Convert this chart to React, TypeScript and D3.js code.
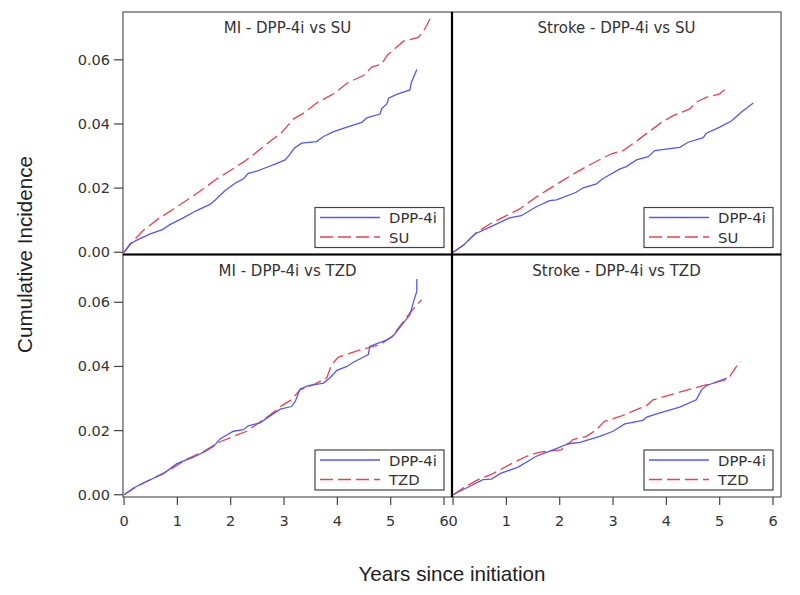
import React from "react";
import * as d3 from "d3";

type Pt = [number, number];

// Years since initiation, cumulative incidence
const miSuDpp: Pt[] = [[0,0],[0.11,0.0026],[0.24,0.0038],[0.49,0.0057],[0.71,0.007],[0.86,0.0086],[1.11,0.0107],[1.36,0.013],[1.61,0.0149],[1.71,0.0163],[1.89,0.0192],[2.11,0.0218],[2.24,0.0229],[2.33,0.0246],[2.49,0.0253],[2.68,0.0265],[2.83,0.0275],[3.02,0.0288],[3.11,0.0305],[3.19,0.0324],[3.33,0.034],[3.61,0.0345],[3.74,0.0361],[3.93,0.0376],[4.18,0.039],[4.46,0.0405],[4.55,0.0419],[4.8,0.0431],[4.83,0.0447],[4.93,0.0463],[4.96,0.048],[5.11,0.0492],[5.36,0.0506],[5.39,0.053],[5.49,0.057]];
const miSuSu: Pt[] = [[0,0],[0.175,0.0036],[0.36,0.0068],[0.64,0.0104],[0.93,0.0135],[1.21,0.0166],[1.49,0.0198],[1.74,0.0229],[1.99,0.0255],[2.24,0.0281],[2.43,0.0305],[2.68,0.0338],[2.96,0.0374],[3.18,0.0416],[3.36,0.0433],[3.61,0.0465],[3.93,0.0494],[4.21,0.053],[4.49,0.0551],[4.64,0.0577],[4.83,0.0587],[4.93,0.0613],[5.24,0.0658],[5.52,0.067],[5.64,0.0696],[5.74,0.0728]];
const strokeSuDpp: Pt[] = [[0,0],[0.19,0.0021],[0.41,0.0057],[0.75,0.0083],[1.06,0.0107],[1.28,0.0114],[1.56,0.0142],[1.81,0.0161],[1.94,0.0163],[2.31,0.0187],[2.44,0.0201],[2.69,0.0213],[2.78,0.0226],[2.88,0.0236],[3.13,0.026],[3.25,0.0267],[3.44,0.0288],[3.66,0.0298],[3.78,0.0317],[4.25,0.0327],[4.41,0.0343],[4.69,0.0357],[4.75,0.0371],[5.0,0.039],[5.22,0.0409],[5.41,0.0437],[5.63,0.0465]];
const strokeSuSu: Pt[] = [[0,0],[0.22,0.0026],[0.44,0.0062],[0.69,0.0088],[1.0,0.0114],[1.25,0.0135],[1.56,0.0172],[1.75,0.0192],[2.0,0.0218],[2.31,0.0249],[2.5,0.0267],[2.72,0.0286],[2.97,0.0307],[3.19,0.0317],[3.41,0.0343],[3.66,0.0374],[3.91,0.0405],[4.13,0.0426],[4.44,0.0447],[4.56,0.0468],[4.75,0.0483],[5.0,0.0494],[5.13,0.0512]];
const miTzdDpp: Pt[] = [[0,0],[0.175,0.0021],[0.43,0.0042],[0.74,0.0066],[0.99,0.0097],[1.3,0.0117],[1.52,0.0135],[1.68,0.0151],[1.8,0.0174],[2.05,0.0198],[2.24,0.0203],[2.33,0.0215],[2.55,0.0224],[2.74,0.0246],[2.93,0.0267],[3.14,0.0275],[3.21,0.0291],[3.3,0.033],[3.46,0.034],[3.74,0.0348],[3.86,0.0364],[3.99,0.0388],[4.18,0.04],[4.3,0.0413],[4.58,0.0437],[4.61,0.0463],[4.93,0.0483],[5.05,0.0496],[5.36,0.0561],[5.43,0.0603],[5.49,0.0634],[5.49,0.0673]];
const miTzdTzd: Pt[] = [[0,0],[0.24,0.0026],[0.55,0.0052],[0.86,0.0078],[1.18,0.0111],[1.49,0.0135],[1.77,0.0163],[2.05,0.0182],[2.3,0.0198],[2.49,0.022],[2.74,0.0249],[2.96,0.0278],[3.14,0.0296],[3.3,0.0327],[3.55,0.0343],[3.8,0.0364],[3.89,0.0405],[4.02,0.0429],[4.43,0.0452],[4.8,0.0468],[5.02,0.0492],[5.36,0.0567],[5.58,0.0608]];
const strokeTzdDpp: Pt[] = [[0,0],[0.25,0.0021],[0.56,0.0047],[0.72,0.0049],[0.88,0.0066],[1.22,0.0086],[1.56,0.012],[1.69,0.0128],[1.97,0.0146],[2.16,0.0159],[2.38,0.0163],[2.75,0.0182],[3.0,0.0198],[3.22,0.0221],[3.56,0.0232],[3.63,0.0242],[3.88,0.0255],[4.25,0.0273],[4.56,0.0296],[4.66,0.0327],[4.75,0.034],[5.13,0.0364]];
const strokeTzdTzd: Pt[] = [[0,0],[0.22,0.0024],[0.47,0.0047],[0.75,0.0066],[1.06,0.0094],[1.38,0.012],[1.63,0.0133],[2.03,0.014],[2.25,0.0172],[2.5,0.0182],[2.69,0.0203],[2.84,0.0229],[3.13,0.0244],[3.63,0.0278],[3.75,0.0296],[4.19,0.0317],[4.69,0.034],[5.13,0.0359],[5.19,0.0369],[5.38,0.0416]];

const panelTitles = ["MI - DPP-4i vs SU", "Stroke - DPP-4i vs SU", "MI - DPP-4i vs TZD", "Stroke - DPP-4i vs TZD"];
const comparators = ["SU", "SU", "TZD", "TZD"];
const refLabel = "DPP-4i";
const dppSeries = [miSuDpp, strokeSuDpp, miTzdDpp, strokeTzdDpp];
const compSeries = [miSuSu, strokeSuSu, miTzdTzd, strokeTzdTzd];
const xTicks = [0, 1, 2, 3, 4, 5, 6];
const yTicks = [0, 0.02, 0.04, 0.06];
const yTitle = "Cumulative Incidence";
const xTitle = "Years since initiation";

const BLUE = "#5458ec";
const RED = "#e8414f";
const FONT = "DejaVu Sans, Verdana, sans-serif";
const TFONT = "Liberation Sans, Arial, sans-serif";

export default function App() {
  const left = 123, top = 12, pw = 329, ph = 242.5;
  const panels = [0, 1, 2, 3].map((i) => {
    const col = i % 2, row = Math.floor(i / 2);
    const x0 = left + col * pw, y0 = top + row * ph;
    const x = d3.scaleLinear().domain([-0.02, 6.15]).range([x0, x0 + pw]);
    const y = d3.scaleLinear().domain([-0.0007, 0.0749]).range([y0 + ph, y0]);
    return { i, col, row, x0, y0, x, y };
  });
  const bottom = top + 2 * ph;
  return (
    <svg width={800} height={595} style={{ position: "absolute", left: 0, top: 0, background: "#fff" }}>
      <rect x={0} y={0} width={800} height={595} fill="#fff" />
      {panels.map((p) => {
        const line = d3.line<Pt>().x((d) => p.x(d[0])).y((d) => p.y(d[1]));
        const lx = p.x0 + pw - 8 - 129, ly = p.y0 + ph - 7 - 40;
        return (
          <g key={p.i}>
            <rect x={p.x0} y={p.y0} width={pw} height={ph} fill="none" stroke="#555" strokeWidth={1.2} />
            <text x={p.x0 + pw / 2} y={p.y0 + 21} textAnchor="middle" fontFamily={FONT} fontSize={15} fill="#333">{panelTitles[p.i]}</text>
            <path d={line(compSeries[p.i]) || ""} fill="none" stroke={RED} strokeWidth={1.3} strokeDasharray="13,5" />
            <path d={line(dppSeries[p.i]) || ""} fill="none" stroke={BLUE} strokeWidth={1.3} />
            <rect x={lx} y={ly} width={129} height={40} fill="#fff" stroke="#444" strokeWidth={1.2} />
            <line x1={lx + 5} x2={lx + 65} y1={ly + 10} y2={ly + 10} stroke={BLUE} strokeWidth={1.3} />
            <line x1={lx + 5} x2={lx + 65} y1={ly + 29.5} y2={ly + 29.5} stroke={RED} strokeWidth={1.3} strokeDasharray="13,5" />
            <text x={lx + 74} y={ly + 15.5} fontFamily={FONT} fontSize={14.8} fill="#333">{refLabel}</text>
            <text x={lx + 74} y={ly + 35} fontFamily={FONT} fontSize={14.8} fill="#333">{comparators[p.i]}</text>
            {p.col === 0 && yTicks.map((t) => (
              <g key={t}>
                <line x1={p.x0 - 9} x2={p.x0} y1={p.y(t)} y2={p.y(t)} stroke="#444" strokeWidth={1.2} />
                <text x={p.x0 - 13} y={p.y(t) + 5} textAnchor="end" fontFamily={FONT} fontSize={14.5} fill="#333">{d3.format(".2f")(t)}</text>
              </g>
            ))}
            {p.row === 1 && xTicks.map((t) => (
              <g key={t}>
                <line x1={p.x(t)} x2={p.x(t)} y1={p.y0 + ph} y2={p.y0 + ph + 8} stroke="#444" strokeWidth={1.2} />
                <text x={p.x(t)} y={p.y0 + ph + 29} textAnchor="middle" fontFamily={FONT} fontSize={14.5} fill="#333">{t}</text>
              </g>
            ))}
          </g>
        );
      })}
      <line x1={left + pw} x2={left + pw} y1={top} y2={bottom} stroke="#000" strokeWidth={2.2} />
      <line x1={left} x2={left + 2 * pw} y1={top + ph} y2={top + ph} stroke="#000" strokeWidth={2.2} />
      <text transform={`translate(32,${top + ph}) rotate(-90)`} textAnchor="middle" fontFamily={TFONT} fontSize={20.6} fill="#222">{yTitle}</text>
      <text x={left + pw} y={581} textAnchor="middle" fontFamily={TFONT} fontSize={20.6} fill="#222">{xTitle}</text>
    </svg>
  );
}
